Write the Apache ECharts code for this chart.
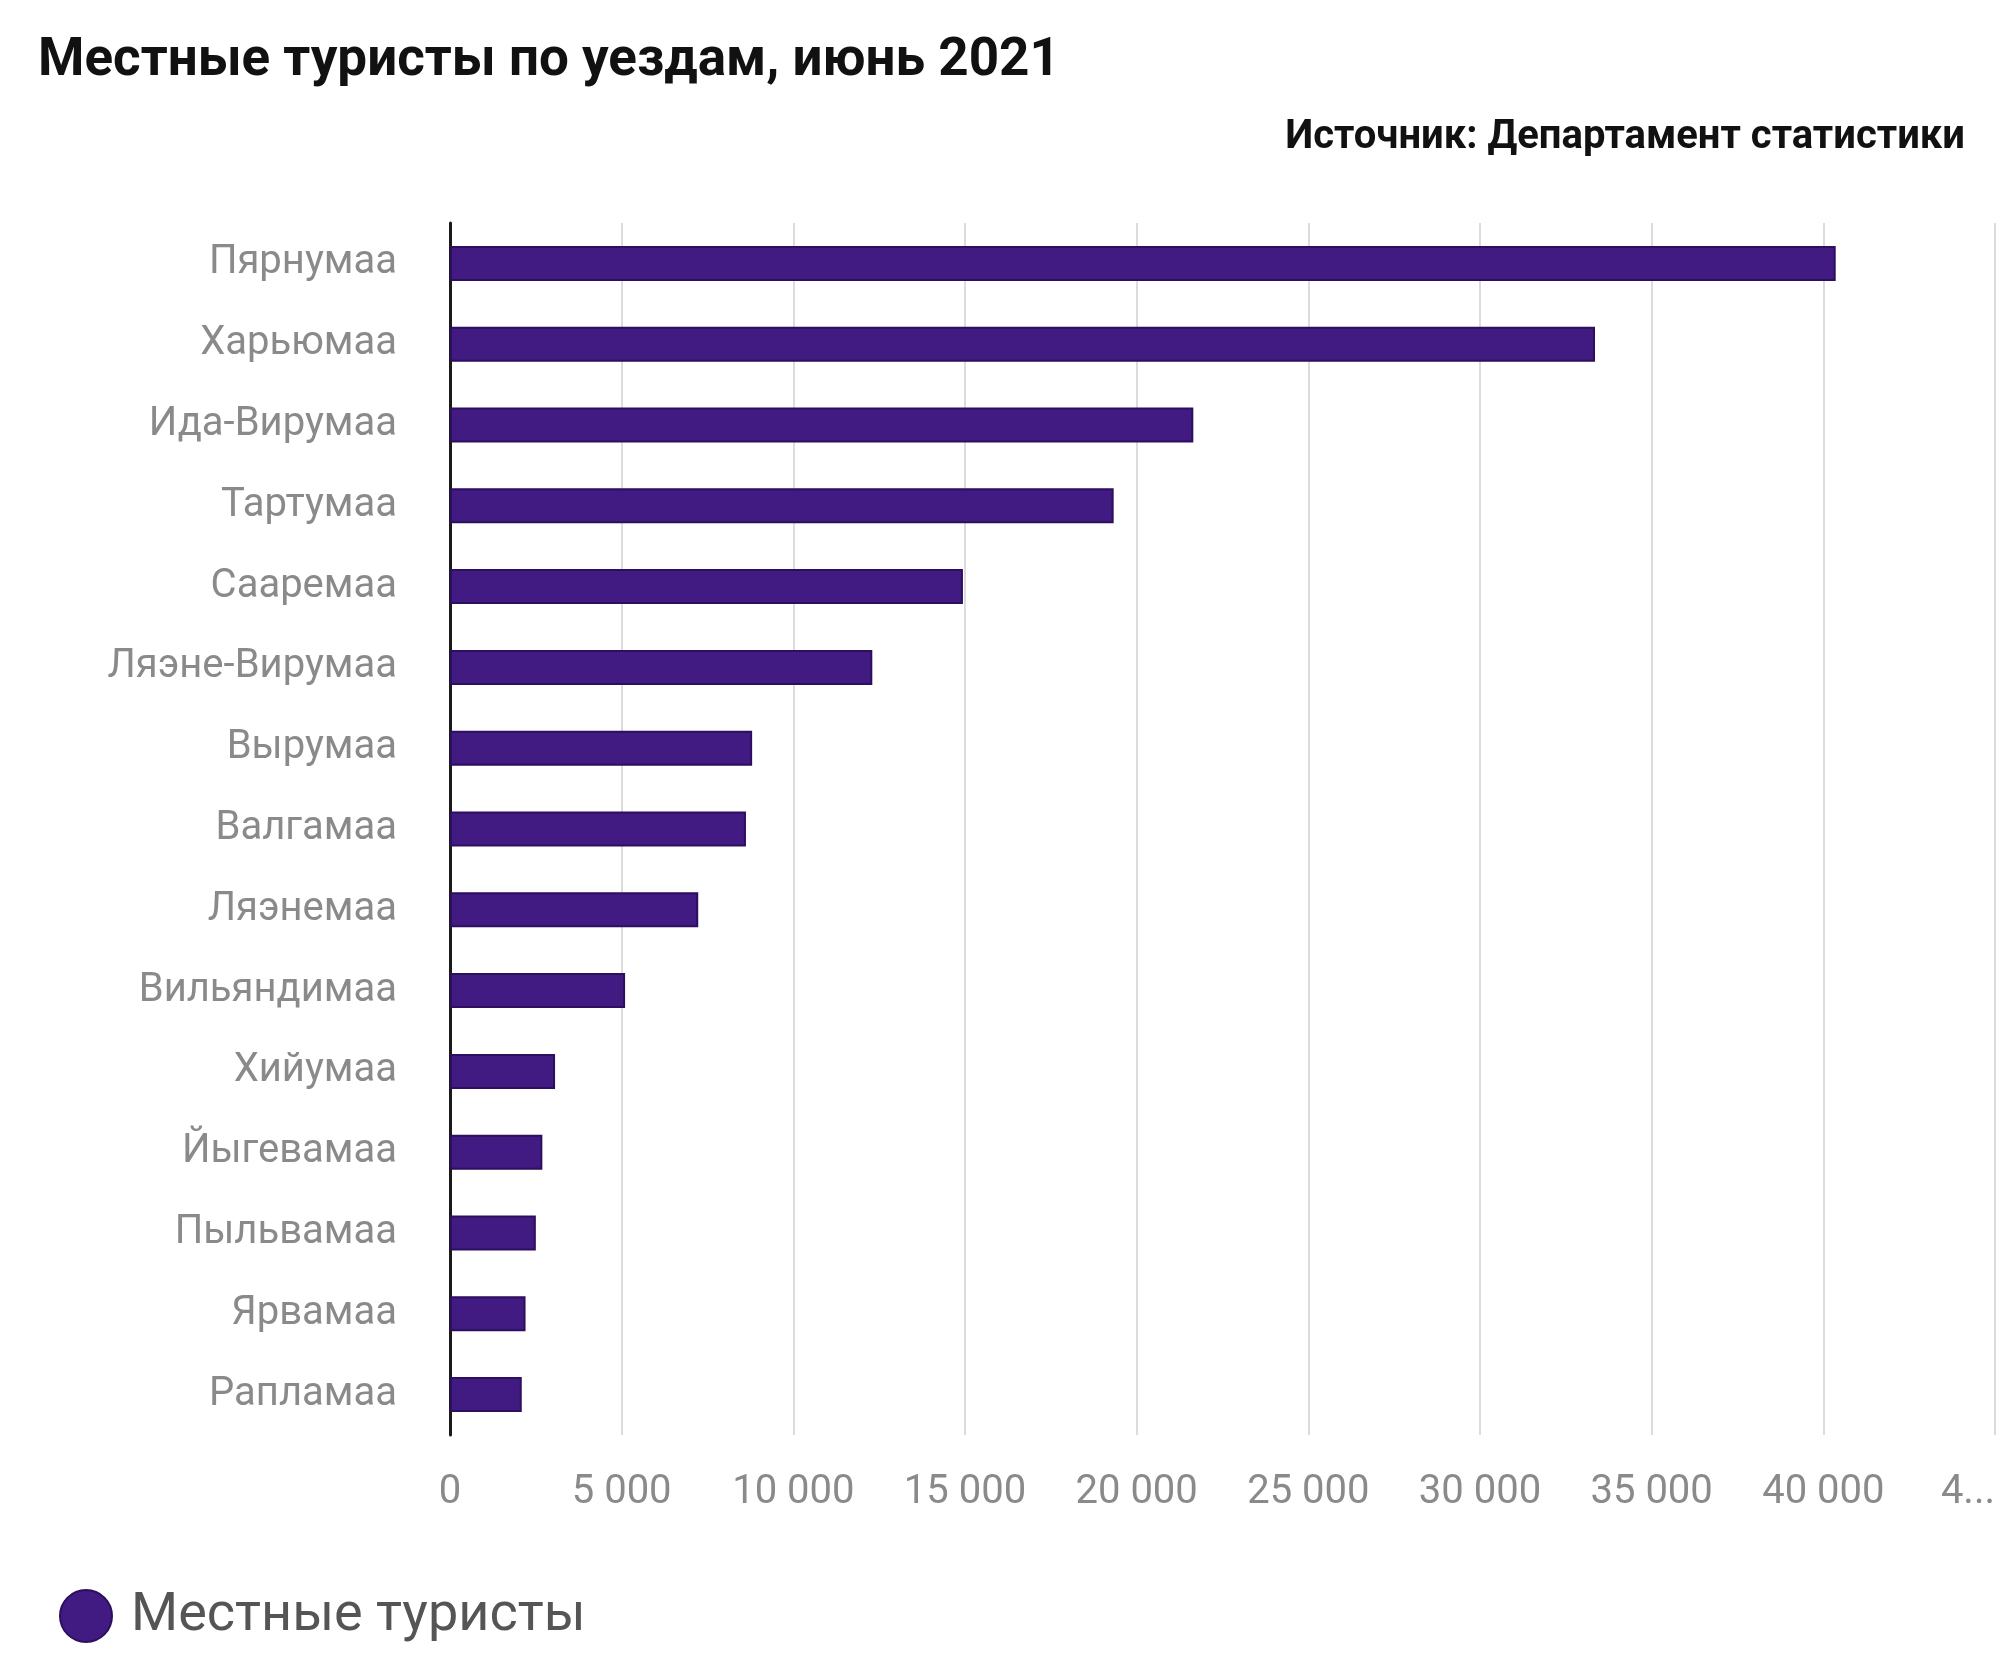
<!DOCTYPE html>
<html>
<head>
<meta charset="utf-8">
<script src="https://cdn.jsdelivr.net/npm/echarts@6/dist/echarts.min.js"></script>
<style>
  html, body { margin: 0; padding: 0; background: #fff; }
  #chart { width: 2000px; height: 1665px; }
</style>
</head>
<body>
<div id="chart"></div>
<script>
// уезды сверху вниз
const counties = [
  'Пярнумаа', 'Харьюмаа', 'Ида-Вирумаа', 'Тартумаа', 'Сааремаа',
  'Ляэне-Вирумаа', 'Вырумаа', 'Валгамаа', 'Ляэнемаа', 'Вильяндимаа',
  'Хийумаа', 'Йыгевамаа', 'Пыльвамаа', 'Ярвамаа', 'Рапламаа'
];
// местные туристы
const tourists = [
  40360, 33350, 21650, 19330, 14940,
  12300, 8800, 8620, 7230, 5100,
  3060, 2690, 2500, 2200, 2090
];
// подписи оси X
const xTickLabels = ['0', '5 000', '10 000', '15 000', '20 000', '25 000', '30 000', '35 000', '40 000', '4...'];
const xStep = 5000;

const chart = echarts.init(document.getElementById('chart'));
chart.setOption({
  backgroundColor: '#fff',
  textStyle: { fontFamily: 'Roboto' },
  title: [{
    text: 'Местные туристы по уездам, июнь 2021',
    left: 33,
    top: 30,
    textStyle: { fontSize: 53, fontWeight: 'bold', color: '#111', fontFamily: 'Roboto' }
  }, {
    text: 'Источник: Департамент статистики',
    right: 30,
    top: 113,
    textStyle: { fontSize: 40, fontWeight: 'bold', color: '#111', fontFamily: 'Roboto' }
  }],
  legend: {
    left: 54,
    top: 1584,
    icon: 'circle',
    itemWidth: 52,
    itemHeight: 52,
    textStyle: {
      fontSize: 54,
      color: '#555',
      padding: [0, 0, 0, 14]
    },
    data: ['Местные туристы']
  },
  grid: {
    left: 450,
    right: 5,
    top: 223,
    bottom: 230
  },
  xAxis: {
    type: 'value',
    min: 0,
    max: xStep * (xTickLabels.length - 1),
    interval: xStep,
    axisLine: { show: false },
    axisTick: { show: false },
    splitLine: {
      lineStyle: { color: '#dcdcdc', width: 2 }
    },
    axisLabel: {
      fontSize: 40,
      color: '#8a8a8a',
      margin: 38,
      alignMaxLabel: 'right',
      formatter: (v) => xTickLabels[Math.round(v / xStep)]
    }
  },
  yAxis: {
    type: 'category',
    inverse: true,
    data: counties,
    axisTick: { show: false },
    axisLine: {
      lineStyle: { color: '#1a1a1a', width: 3 }
    },
    axisLabel: {
      fontSize: 40,
      color: '#8a8a8a',
      margin: 53,
      padding: [14, 0, 0, 0]
    }
  },
  series: [{
    name: 'Местные туристы',
    type: 'bar',
    data: tourists,
    barWidth: 35,
    itemStyle: {
      color: '#411a82',
      borderColor: '#2c0f5e',
      borderWidth: 2
    }
  }]
});
</script>
</body>
</html>
